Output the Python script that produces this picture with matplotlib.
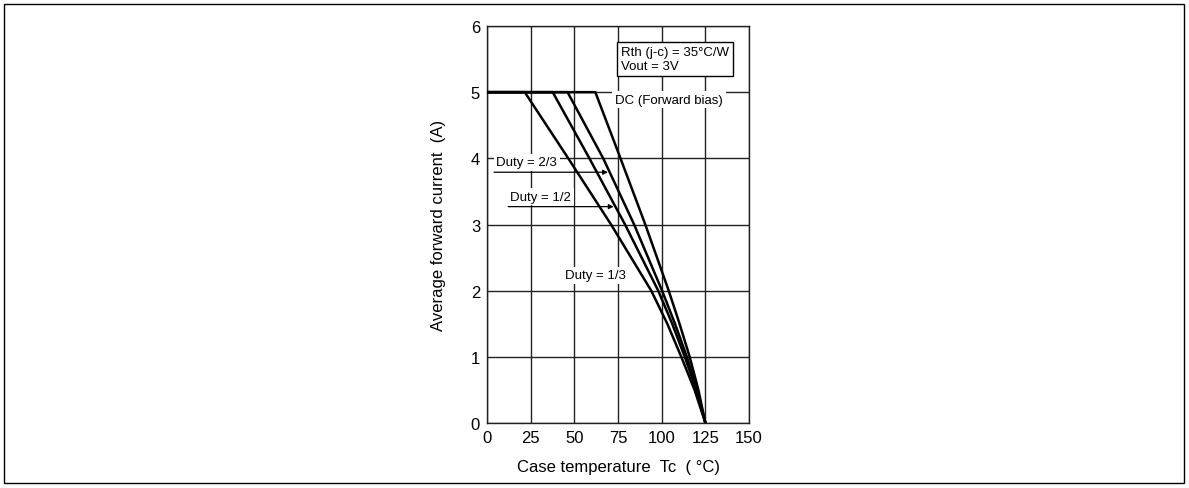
import numpy as np
import matplotlib
matplotlib.use("Agg")
import matplotlib.pyplot as plt
from matplotlib.patches import Rectangle

plt.rcParams['font.family'] = ['Liberation Sans', 'DejaVu Sans']

# Derating curves: current (A) vs case temperature (degC)
current = [5, 5, 4, 3, 2, 1.5, 1, 0.5, 0]
dc_tc = [0, 62, 76.4, 90.6, 104.0, 110.2, 116.0, 121.0, 125]
duty23_tc = [0, 46.1, 66.5, 84.2, 100.2, 107.6, 114.4, 120.3, 125]
duty12_tc = [0, 37.6, 58.6, 79.0, 98.0, 106.0, 113.2, 119.8, 125]
duty13_tc = [0, 21.6, 46.5, 71, 94.0, 103.2, 111.2, 118.8, 125]

x_ticks = [0, 25, 50, 75, 100, 125, 150]
y_ticks = [0, 1, 2, 3, 4, 5, 6]

fig = plt.figure(figsize=(11.89, 4.89), dpi=100)
ax = fig.add_axes([0.4096, 0.1329, 0.2204, 0.8119])

ax.set_xlim(0, 150)
ax.set_ylim(0, 6)
ax.set_xticks(x_ticks)
ax.set_yticks(y_ticks)
ax.tick_params(length=0, labelsize=12, pad=5)
ax.grid(True, color='#222222', lw=1)
ax.set_axisbelow(True)
for s in ax.spines.values():
    s.set_linewidth(1)
    s.set_color('#222222')

for tc in [dc_tc, duty23_tc, duty12_tc, duty13_tc]:
    ax.plot(tc, current, color='black', lw=1.8, zorder=3, solid_joinstyle='round')

ax.set_xlabel('Case temperature  Tc  ( °C)', fontsize=12, labelpad=10)
ax.set_ylabel('Average forward current  (A)', fontsize=12, labelpad=18)

box = dict(facecolor='white', edgecolor='none', pad=2)
ax.text(104.2, 4.886, 'DC (Forward bias)', fontsize=9.5, ha='center', va='center', bbox=box, zorder=4)
ax.text(22.7, 3.94, 'Duty = 2/3', fontsize=9.5, ha='center', va='center', bbox=box, zorder=4)
ax.text(30.6, 3.42, 'Duty = 1/2', fontsize=9.5, ha='center', va='center', bbox=box, zorder=4)
ax.text(61.8, 2.23, 'Duty = 1/3', fontsize=9.5, ha='center', va='center', bbox=box, zorder=4)
ax.text(76.7, 5.505, 'Rth (j-c) = 35°C/W\nVout = 3V', fontsize=9.5, ha='left', va='center',
        linespacing=1.25, zorder=4,
        bbox=dict(facecolor='white', edgecolor='black', lw=1, boxstyle='square,pad=0.3'))

# arrows pointing at the duty curves
arrow_y = [3.79, 3.27]
arrow_x0 = [4, 12.1]
for y, x0, tc in zip(arrow_y, arrow_x0, [duty23_tc, duty12_tc]):
    tip = np.interp(y, current[::-1], tc[::-1])
    ax.annotate('', xy=(tip - 1, y), xytext=(x0, y), zorder=4,
                arrowprops=dict(arrowstyle='-|>', color='black', lw=0.9,
                                mutation_scale=7, shrinkA=0, shrinkB=0))

fig.patches.append(Rectangle((4 / 1189, 5 / 489), 1180 / 1189, 479 / 489,
                             transform=fig.transFigure, fill=False,
                             edgecolor='black', lw=1))

fig.savefig('out.png', dpi=100)
